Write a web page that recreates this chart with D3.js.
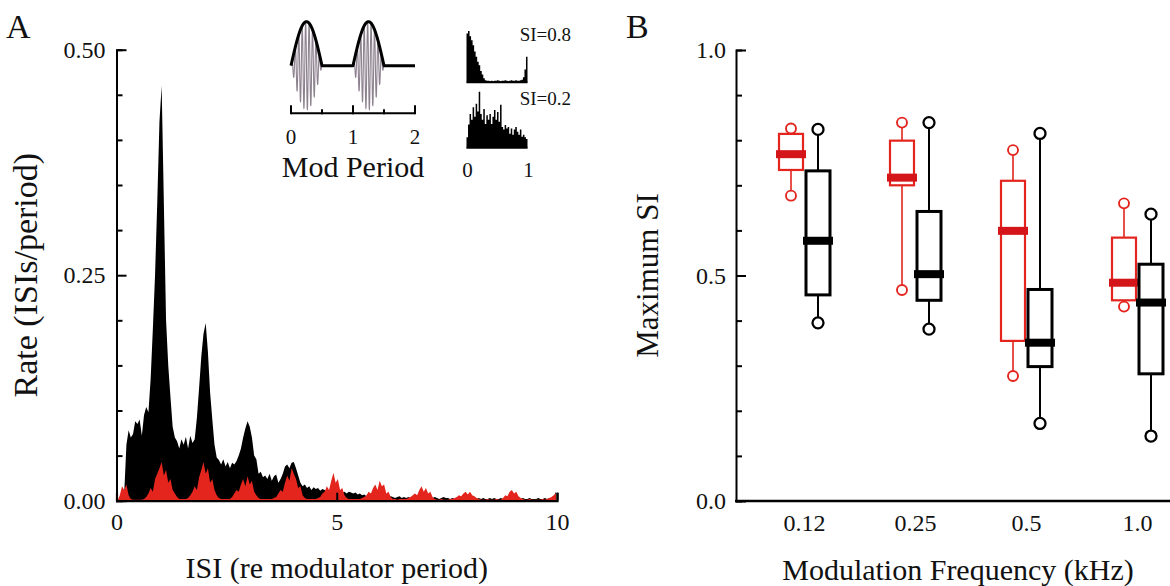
<!DOCTYPE html>
<html><head><meta charset="utf-8">
<script src="https://cdn.jsdelivr.net/npm/d3@7/dist/d3.min.js"></script>
<style>
body{margin:0;background:#fff}
svg{display:block}
text{font-family:"Liberation Serif","Times New Roman",serif;fill:#111}
</style>
</head><body>
<svg id="chart" width="1170" height="586"></svg>
<script>
// ---------------- DATA ----------------
// Panel A: ISI histograms, bins of 0.05 modulator periods (0..10)
const isiBinWidth = 0.05;
const isiAllUnits = [
0,0,0,0.008,0.062, 0.078,0.07,0.074,0.088,0.085,
0.09,0.072,0.095,0.104,0.098, 0.135,0.19,0.25,0.33,0.42,
0.46,0.33,0.2,0.15,0.115, 0.082,0.07,0.066,0.058,0.068,
0.062,0.071,0.058,0.072,0.064, 0.068,0.092,0.125,0.16,0.185,
0.197,0.165,0.12,0.09,0.062, 0.048,0.045,0.04,0.046,0.038,
0.043,0.036,0.042,0.04,0.044, 0.05,0.058,0.07,0.08,0.088,
0.082,0.07,0.05,0.046,0.03, 0.032,0.026,0.028,0.024,0.03,
0.022,0.027,0.029,0.02,0.024, 0.03,0.038,0.04,0.036,0.042,
0.043,0.036,0.028,0.02,0.016, 0.018,0.014,0.016,0.012,0.015,
0.013,0.014,0.011,0.013,0.012, 0.01,0.011,0.013,0.015,0.013,
0.012,0.011,0.009,0.01,0.008, 0.01,0.009,0.008,0.009,0.007,
0.008,0.006,0.007,0.005,0.006, 0.007,0.006,0.008,0.009,0.008,
0.007,0.006,0.005,0.004,0.005, 0.004,0.003,0.004,0.005,0.003,
0.004,0.003,0.004,0.003,0.004, 0.003,0.004,0.005,0.006,0.007,
0.006,0.005,0.004,0.003,0.004, 0.003,0.002,0.003,0.004,0.003,
0.003,0.002,0.003,0.002,0.003, 0.002,0.003,0.004,0.005,0.004,
0.005,0.004,0.003,0.002,0.003, 0.002,0.003,0.002,0.002,0.003,
0.002,0.003,0.002,0.002,0.003, 0.002,0.003,0.004,0.004,0.005,
0.004,0.003,0.002,0.002,0.003, 0.002,0.002,0.003,0.002,0.002,
0.002,0.003,0.002,0.002,0.003, 0.002,0.003,0.003,0.004,0.01
];
const isiHighSIUnits = [
0,0.006,0.016,0.012,0.018, 0.006,0.002,0.001,0.001,0.001,
0.001,0.001,0.002,0.004,0.008, 0.014,0.01,0.024,0.03,0.036,
0.043,0.028,0.034,0.02,0.024, 0.012,0.008,0.004,0.002,0.002,
0.002,0.002,0.003,0.006,0.01, 0.016,0.012,0.026,0.034,0.043,
0.03,0.036,0.02,0.024,0.012, 0.006,0.003,0.002,0.002,0.002,
0.002,0.002,0.004,0.008,0.012, 0.01,0.018,0.024,0.016,0.027,
0.018,0.022,0.01,0.006,0.003, 0.002,0.002,0.002,0.002,0.002,
0.002,0.003,0.004,0.008,0.012, 0.01,0.02,0.028,0.022,0.036,
0.03,0.024,0.014,0.016,0.006, 0.003,0.002,0.002,0.002,0.002,
0.002,0.003,0.004,0.008,0.01, 0.016,0.012,0.022,0.031,0.02,
0.024,0.012,0.014,0.006,0.003, 0.002,0.002,0.002,0.002,0.002,
0.002,0.003,0.004,0.006,0.01, 0.008,0.014,0.018,0.012,0.022,
0.016,0.018,0.008,0.01,0.004, 0.002,0.002,0.001,0.002,0.002,
0.002,0.002,0.003,0.004,0.006, 0.008,0.006,0.012,0.016,0.01,
0.014,0.008,0.01,0.004,0.002, 0.001,0.001,0.002,0.001,0.001,
0.001,0.002,0.002,0.003,0.004, 0.006,0.005,0.008,0.01,0.007,
0.01,0.006,0.005,0.003,0.002, 0.001,0.001,0.001,0.002,0.001,
0.001,0.001,0.002,0.001,0.001, 0.003,0.006,0.005,0.01,0.012,
0.008,0.01,0.005,0.003,0.002, 0.001,0.001,0.002,0.001,0.001,
0.001,0.001,0.001,0.002,0.001, 0.002,0.003,0.004,0.006,0.008
];
const isiTickValues = [0, 5, 10];
const rateTickValues = [0, 0.05, 0.10, 0.15, 0.20, 0.25, 0.30, 0.35, 0.40, 0.45, 0.50];
const rateMajorTicks = [0, 0.25, 0.5];

// Inset 1: modulator schematic
const modPeriodTicks = [0, 0.5, 1, 1.5, 2];
const modPeriodLabels = [0, 1, 2];
const carrierCyclesPerPeriod = 18;

// Inset 2: example ISI histograms (40 bins over 0..1 period)
const exampleBinWidth = 0.025;
const exampleSI08 = [0.95,1.0,0.9,0.82,0.72,0.6,0.5,0.4,0.33,0.22,0.15,0.08,0.04,0.03,0.03,0.02,0.03,0.02,0.03,0.03,
                     0.04,0.03,0.02,0.03,0.03,0.04,0.03,0.02,0.03,0.04,0.03,0.03,0.04,0.03,0.03,0.04,0.05,0.1,0.25,0.5];
const exampleSI02 = [0.2,0.45,0.65,0.54,0.78,0.6,0.85,0.7,1.08,0.65,0.54,0.75,0.46,0.63,0.54,0.65,0.46,0.6,0.73,0.54,
                     0.69,0.5,0.83,0.4,0.35,0.44,0.37,0.4,0.27,0.37,0.25,0.35,0.4,0.31,0.25,0.35,0.21,0.25,0.2,0.17];
const exampleLabels = ["SI=0.8", "SI=0.2"];
const exampleAxisLabels = [0, 1];

// Panel B: Maximum SI box plots
const freqCategories = ["0.12", "0.25", "0.5", "1.0"];
const redLow  = [0.677, 0.468, 0.277, 0.431];
const redQ1   = [0.734, 0.700, 0.355, 0.445];
const redMed  = [0.769, 0.717, 0.599, 0.484];
const redQ3   = [0.814, 0.799, 0.710, 0.584];
const redHigh = [0.826, 0.839, 0.778, 0.660];
const blackLow  = [0.395, 0.381, 0.172, 0.144];
const blackQ1   = [0.457, 0.445, 0.298, 0.282];
const blackMed  = [0.577, 0.503, 0.351, 0.440];
const blackQ3   = [0.732, 0.642, 0.469, 0.525];
const blackHigh = [0.824, 0.839, 0.815, 0.636];
const siTickValues = [0, 0.1, 0.2, 0.3, 0.4, 0.5, 0.6, 0.7, 0.8, 0.9, 1.0];
const siMajorTicks = [0, 0.5, 1.0];

// ---------------- DRAW ----------------
const svg = d3.select("#chart");
const RED = "#e3251e", RED_DARK = "#d4161a";

// ===== Panel A =====
const xA = d3.scaleLinear([0, 10], [116.5, 557]);
const yA = d3.scaleLinear([0, 0.5], [500.7, 49.7]);

const areaA = d3.area()
  .x((d, i) => xA((i + 0.5) * isiBinWidth))
  .y0(yA(0)).y1(d => yA(d)).curve(d3.curveLinear);
svg.append("path").datum(isiAllUnits).attr("d", areaA).attr("fill", "#000");
svg.append("path").datum(isiHighSIUnits).attr("d", areaA).attr("fill", RED);

const yAxisA = svg.append("g").attr("transform", `translate(${xA(0)},0)`)
  .call(d3.axisLeft(yA).tickValues(rateTickValues).tickSizeOuter(0).tickSize(-6).tickPadding(11)
        .tickFormat(d => rateMajorTicks.some(m => Math.abs(m - d) < 1e-9) ? d3.format(".2f")(d) : ""));
yAxisA.select(".domain").attr("stroke-width", 2);
yAxisA.selectAll(".tick line").attr("stroke-width", 2)
  .attr("x2", d => rateMajorTicks.some(m => Math.abs(m - d) < 1e-9) ? 10 : 6);
yAxisA.selectAll("text").style("font-size", "24px").attr("fill", "#111");

const xAxisA = svg.append("g").attr("transform", `translate(0,${yA(0)})`)
  .call(d3.axisBottom(xA).tickValues(isiTickValues).tickSizeOuter(0).tickSize(-8).tickPadding(12));
xAxisA.select(".domain").attr("stroke-width", 2.2);
xAxisA.selectAll(".tick line").attr("stroke-width", 2);
xAxisA.selectAll("text").style("font-size", "24px").attr("fill", "#111");

svg.append("text").attr("transform", `translate(37,${yA(0.25)}) rotate(-90)`)
  .attr("text-anchor", "middle").style("font-size", "34px").text("Rate (ISIs/period)");
svg.append("text").attr("x", (xA(0) + xA(10)) / 2).attr("y", 578)
  .attr("text-anchor", "middle").style("font-size", "30px").text("ISI (re modulator period)");
svg.append("text").attr("x", 6).attr("y", 38).style("font-size", "34px").text("A");

// ----- Inset 1: modulator schematic -----
const xM = d3.scaleLinear([0, 2], [291, 415]);
const yM = d3.scaleLinear([-1, 1], [109.7, 21.7]);
const env = t => { const f = t - Math.floor(t); return f < 0.5 ? Math.sin(2 * Math.PI * f) : 0; };
const carrierT = d3.range(0, 2.0001, 1 / 1800);
svg.append("path").datum(carrierT)
  .attr("d", d3.line().x(t => xM(t)).y(t => yM(env(t) * Math.sin(2 * Math.PI * carrierCyclesPerPeriod * t))))
  .attr("fill", "none").attr("stroke", "#8e8290").attr("stroke-width", 1.1);
const envT = d3.range(0, 2.0001, 1 / 400);
svg.append("path").datum(envT)
  .attr("d", d3.line().x(t => xM(t)).y(t => yM(env(t))))
  .attr("fill", "none").attr("stroke", "#000").attr("stroke-width", 3).attr("stroke-linejoin", "round");
const modAxisY = 113.3;
svg.append("line").attr("x1", xM(0)).attr("x2", xM(2)).attr("y1", modAxisY).attr("y2", modAxisY)
  .attr("stroke", "#000").attr("stroke-width", 2);
svg.selectAll(".modtick").data(modPeriodTicks).join("line")
  .attr("x1", d => xM(d)).attr("x2", d => xM(d))
  .attr("y1", modAxisY + 1).attr("y2", d => modAxisY - (Number.isInteger(d) ? 8 : 4))
  .attr("stroke", "#000").attr("stroke-width", 2);
svg.selectAll(".modlab").data(modPeriodLabels).join("text")
  .attr("x", d => xM(d)).attr("y", 144).attr("text-anchor", "middle")
  .style("font-size", "21px").text(d => d);
svg.append("text").attr("x", xM(1)).attr("y", 177).attr("text-anchor", "middle")
  .style("font-size", "30px").text("Mod Period");

// ----- Inset 2: example ISI histograms -----
const xH = d3.scaleLinear([0, 1], [466.5, 527.5]);
const yHtop = d3.scaleLinear([0, 1], [82.3, 31]);
const yHbot = d3.scaleLinear([0, 1], [147.7, 96]);
function stepPts(arr) { const p = arr.map((v, i) => [i * exampleBinWidth, v]); p.push([arr.length * exampleBinWidth, arr[arr.length - 1]]); return p; }
[[exampleSI08, yHtop], [exampleSI02, yHbot]].forEach(([arr, ys]) => {
  svg.append("path").datum(stepPts(arr))
    .attr("d", d3.area().x(d => xH(d[0])).y0(ys(0)).y1(d => ys(d[1])).curve(d3.curveStepAfter))
    .attr("fill", "#000");
  svg.append("line").attr("x1", xH(0)).attr("x2", xH(1)).attr("y1", ys(0)).attr("y2", ys(0))
    .attr("stroke", "#000").attr("stroke-width", 2);
});
svg.append("text").attr("x", 571).attr("y", 41).attr("text-anchor", "end").style("font-size", "19px").text(exampleLabels[0]);
svg.append("text").attr("x", 571).attr("y", 105).attr("text-anchor", "end").style("font-size", "19px").text(exampleLabels[1]);
svg.selectAll(".exlab").data(exampleAxisLabels).join("text")
  .attr("x", d => xH(d) + 1).attr("y", 177).attr("text-anchor", "middle")
  .style("font-size", "21px").text(d => d);

// ===== Panel B =====
const xB = d3.scalePoint(freqCategories, [804.5, 1137.5]);
const yB = d3.scaleLinear([0, 1], [501, 50]);
const off = 13.5, bw = 24, medW = 30;

const yAxisB = svg.append("g").attr("transform", "translate(736,0)")
  .call(d3.axisLeft(yB).tickValues(siTickValues).tickSizeOuter(0).tickSize(-6).tickPadding(10)
        .tickFormat(d => siMajorTicks.some(m => Math.abs(m - d) < 1e-9) ? d3.format(".1f")(d) : ""));
yAxisB.select(".domain").attr("stroke-width", 2);
yAxisB.selectAll(".tick line").attr("stroke-width", 2)
  .attr("x2", d => siMajorTicks.some(m => Math.abs(m - d) < 1e-9) ? 10 : 6);
yAxisB.selectAll("text").style("font-size", "24px").attr("fill", "#111");
svg.append("line").attr("x1", 735).attr("x2", 1170).attr("y1", yB(0)).attr("y2", yB(0))
  .attr("stroke", "#000").attr("stroke-width", 2.5);
svg.selectAll(".catlab").data(freqCategories).join("text")
  .attr("x", d => xB(d)).attr("y", 531).attr("text-anchor", "middle")
  .style("font-size", "24px").text(d => d);

function boxes(low, q1, med, q3, high, dx, color, medColor, sw, wsw, cr) {
  const g = svg.append("g");
  freqCategories.forEach((c, i) => {
    const cx = xB(c) + dx;
    g.append("line").attr("x1", cx).attr("x2", cx).attr("y1", yB(high[i]) + cr).attr("y2", yB(q3[i]))
      .attr("stroke", color).attr("stroke-width", wsw);
    g.append("line").attr("x1", cx).attr("x2", cx).attr("y1", yB(q1[i])).attr("y2", yB(low[i]) - cr)
      .attr("stroke", color).attr("stroke-width", wsw);
    g.append("rect").attr("x", cx - bw / 2).attr("width", bw)
      .attr("y", yB(q3[i])).attr("height", yB(q1[i]) - yB(q3[i]))
      .attr("fill", "#fff").attr("stroke", color).attr("stroke-width", sw);
    g.append("rect").attr("x", cx - medW / 2).attr("width", medW)
      .attr("y", yB(med[i]) - 4).attr("height", 8).attr("fill", medColor);
    [high[i], low[i]].forEach(v => g.append("circle").attr("cx", cx).attr("cy", yB(v)).attr("r", cr)
      .attr("fill", "#fff").attr("stroke", color).attr("stroke-width", wsw + 0.3));
  });
}
boxes(redLow, redQ1, redMed, redQ3, redHigh, -off, RED, RED_DARK, 2.2, 1.6, 5);
boxes(blackLow, blackQ1, blackMed, blackQ3, blackHigh, off, "#000", "#000", 3, 2, 5.5);

svg.append("text").attr("transform", `translate(658,${yB(0.5)}) rotate(-90)`)
  .attr("text-anchor", "middle").style("font-size", "31px").text("Maximum SI");
svg.append("text").attr("x", 958).attr("y", 580).attr("text-anchor", "middle")
  .style("font-size", "30px").text("Modulation Frequency (kHz)");
svg.append("text").attr("x", 626).attr("y", 38).style("font-size", "34px").text("B");
</script>
</body></html>
